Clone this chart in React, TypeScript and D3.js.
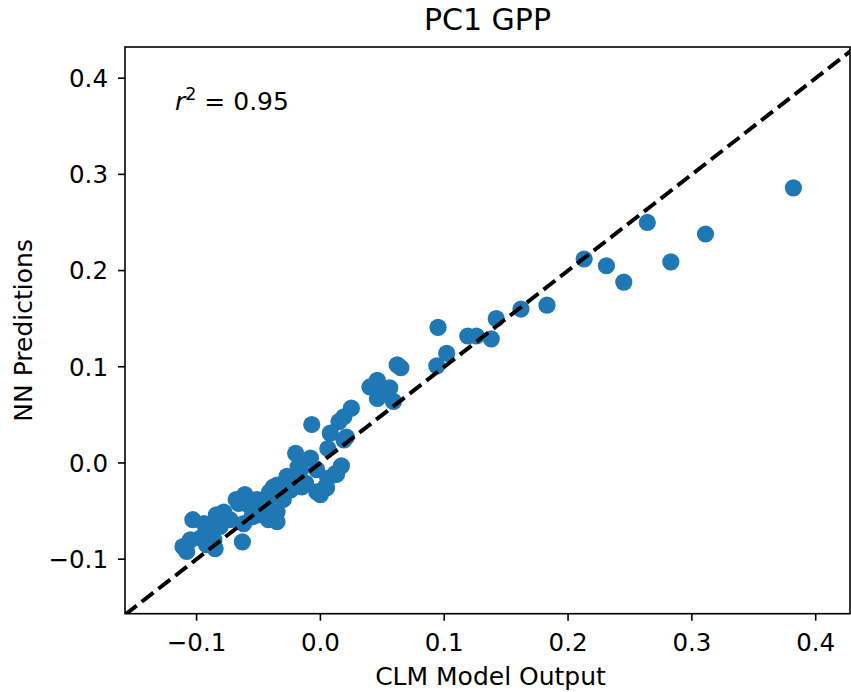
import React from "react";
import * as d3 from "d3";

const title = "PC1 GPP";
const xLabel = "CLM Model Output";
const yLabel = "NN Predictions";
const r2Value = "0.95";
const xTicks = [-0.1, 0.0, 0.1, 0.2, 0.3, 0.4];
const yTicks = [-0.1, 0.0, 0.1, 0.2, 0.3, 0.4];
const xDomain = [-0.1578, 0.4277];
const yDomain = [-0.1567, 0.4324];

const clmOutput = [
  0.382, 0.264, 0.311, 0.213, 0.231, 0.283, 0.245, 0.162, 0.183, 0.142,
  0.095, 0.119, 0.126, 0.138, 0.102, 0.094, 0.062, 0.065, 0.046, 0.040,
  0.056, 0.051, 0.046, 0.059, 0.025, 0.019, 0.015, -0.007, 0.008, 0.021,
  0.006, -0.020, -0.008, 0.017, 0.012, 0.004, -0.003, -0.027, -0.016, -0.012,
  -0.024, -0.003, 0.006, 0.005, 0.000, -0.035, -0.041, -0.019, -0.030, -0.051,
  -0.046, -0.035, -0.057, -0.038, -0.042, -0.031, -0.043, -0.042, -0.051, -0.035,
  -0.063, -0.061, -0.066, -0.055, -0.062, -0.063, -0.078, -0.084, -0.073, -0.081,
  -0.089, -0.103, -0.094, -0.086, -0.097, -0.105, -0.111, -0.108, -0.085, -0.092,
  -0.015, -0.024, -0.018, 0.013, 0.019, -0.068,
];
const nnPredictions = [
  0.286, 0.250, 0.238, 0.212, 0.205, 0.209, 0.188, 0.160, 0.164, 0.150,
  0.141, 0.132, 0.132, 0.129, 0.114, 0.101, 0.102, 0.099, 0.086, 0.079,
  0.078, 0.072, 0.067, 0.064, 0.057, 0.048, 0.043, 0.040, 0.031, 0.027,
  0.015, 0.010, 0.005, -0.003, -0.011, -0.025, -0.030, -0.014, -0.007, -0.021,
  -0.028, -0.007, -0.016, -0.026, -0.033, -0.023, -0.030, -0.023, -0.038, -0.038,
  -0.044, -0.051, -0.045, -0.025, -0.037, -0.031, -0.044, -0.059, -0.054, -0.061,
  -0.037, -0.033, -0.042, -0.056, -0.063, -0.082, -0.051, -0.054, -0.059, -0.066,
  -0.071, -0.059, -0.063, -0.080, -0.078, -0.080, -0.087, -0.092, -0.089, -0.085,
  -0.025, -0.016, -0.004, -0.012, 0.024, -0.038,
];

const W = 851;
const H = 692;
const L = 125;
const R = 850;
const T = 47;
const B = 613.7;
const FONT = "DejaVu Sans, sans-serif";
const fmt = d3.format(".1f");

export default function App() {
  const x = d3.scaleLinear().domain(xDomain).range([L, R]);
  const y = d3.scaleLinear().domain(yDomain).range([B, T]);
  const lo = Math.min(xDomain[0], yDomain[0]);
  const hi = Math.max(xDomain[1], yDomain[1]);
  const line = d3.line<number>().x((d) => x(d)).y((d) => y(d));
  const pts = clmOutput.map((v, i) => [v, nnPredictions[i]]);

  return (
    <svg
      width={W}
      height={H}
      style={{ position: "absolute", left: 0, top: 0, background: "#fff" }}
      fontFamily={FONT}
    >
      <defs>
        <clipPath id="plotclip">
          <rect x={L} y={T} width={R - L} height={B - T} />
        </clipPath>
      </defs>
      <rect x={0} y={0} width={W} height={H} fill="#fff" />
      <g clipPath="url(#plotclip)">
        {pts.map((p, i) => (
          <circle key={i} cx={x(p[0])} cy={y(p[1])} r={8.6} fill="#1f77b4" />
        ))}
        <path
          d={line([lo, hi]) || ""}
          stroke="#000"
          strokeWidth={4}
          strokeDasharray="14.8,6.4"
          fill="none"
        />
      </g>
      <rect x={L} y={T} width={R - L} height={B - T} fill="none" stroke="#000" strokeWidth={1.6} />
      {xTicks.map((t) => (
        <g key={"x" + t}>
          <line x1={x(t)} x2={x(t)} y1={B} y2={B + 7} stroke="#000" strokeWidth={1.6} />
          <text x={x(t)} y={B + 37} fontSize={24.5} textAnchor="middle">
            {fmt(t)}
          </text>
        </g>
      ))}
      {yTicks.map((t) => (
        <g key={"y" + t}>
          <line x1={L - 7} x2={L} y1={y(t)} y2={y(t)} stroke="#000" strokeWidth={1.6} />
          <text x={L - 17} y={y(t) + 8.8} fontSize={24.5} textAnchor="end">
            {fmt(t)}
          </text>
        </g>
      ))}
      <text x={175} y={110} fontSize={25}>
        <tspan fontStyle="italic">r</tspan>
        <tspan fontSize={17.5} dy={-10}>2</tspan>
        <tspan dy={10}> = {r2Value}</tspan>
      </text>
      <text x={(L + R) / 2} y={30} fontSize={30} textAnchor="middle">
        {title}
      </text>
      <text x={(L + R) / 2 + 3} y={685} fontSize={25} textAnchor="middle">
        {xLabel}
      </text>
      <text
        transform={`translate(32, ${(T + B) / 2}) rotate(-90)`}
        fontSize={25}
        textAnchor="middle"
      >
        {yLabel}
      </text>
    </svg>
  );
}
